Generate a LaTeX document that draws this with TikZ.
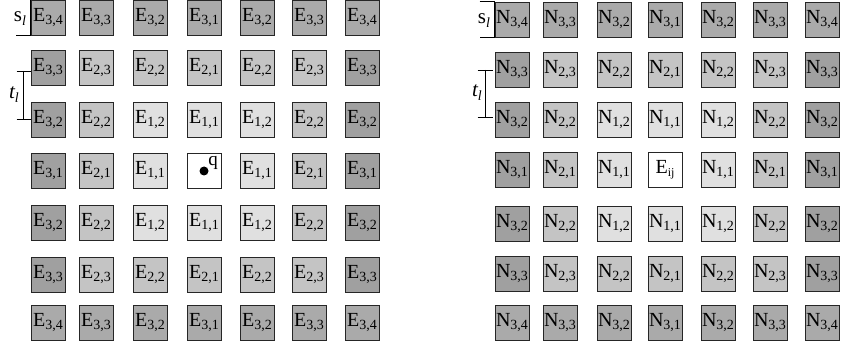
\documentclass[tikz,border=0pt]{standalone}
\usepackage{fontspec}
\setmainfont{Liberation Serif}
\newfontfamily\tnr{Liberation Serif}
\usetikzlibrary{calc}
\definecolor{shade0}{HTML}{FFFFFF}
\definecolor{shade1}{HTML}{E0E0E0}
\definecolor{shade2}{HTML}{C4C4C4}
\definecolor{shade3}{HTML}{A0A0A0}
\definecolor{shade4}{HTML}{AAAAAA}
\newcommand\subx[1]{\raisebox{-3pt}{\fontsize{14}{14}\selectfont #1}}
\begin{document}
\begin{tikzpicture}[x=1pt,y=-1pt,
  cell/.style={draw=black!85, line width=0.7pt, minimum width=34pt, minimum height=35pt,
    inner sep=0pt, font=\tnr\fontsize{20}{21}\selectfont},
  brk/.style={draw=black, line width=0.7pt},
  lbl/.style={inner sep=0pt, font=\tnr\fontsize{21}{22}\selectfont}]
\useasboundingbox (0,0) rectangle (842,347);
% left grid
\foreach \r/\y in {1/17.5,2/68,3/120,4/171,5/223,6/275,7/323} {
  \foreach \c/\x in {1/48,2/96,3/150,4/204,5/257,6/309,7/362} {
    \pgfmathtruncatemacro\dr{abs(\r-4)}
    \pgfmathtruncatemacro\dc{abs(\c-4)}
    \pgfmathtruncatemacro\a{max(\dr,\dc)}
    \pgfmathtruncatemacro\b{min(\dr,\dc)+1}
    \pgfmathtruncatemacro\k{\dr==3 ? 4 : \a}
    \node[cell, fill=shade\k] (L-\r-\c) at (\x,\y) {\ifnum\a=0 \else E\subx{\a,\b}\fi};
  }
}
% right grid
\foreach \r/\y in {1/19.5,2/69.5,3/120,4/170,5/223.5,6/273.5,7/323} {
  \foreach \c/\x in {1/512,2/560,3/614,4/665,5/718,6/770,7/822} {
    \pgfmathtruncatemacro\dr{abs(\r-4)}
    \pgfmathtruncatemacro\dc{abs(\c-4)}
    \pgfmathtruncatemacro\a{max(\dr,\dc)}
    \pgfmathtruncatemacro\b{min(\dr,\dc)+1}
    \pgfmathtruncatemacro\k{\dr==3 ? 4 : \a}
    \node[cell, fill=shade\k] (R-\r-\c) at (\x,\y) {\ifnum\a=0 E\subx{\fontsize{12}{12}\selectfont ij}\else N\subx{\a,\b}\fi};
  }
}
% query point
\fill (L-4-4.center) circle (4.5pt);
\node[lbl, font=\tnr\fontsize{19}{20}\selectfont] (q) at ($(L-4-4.center)+(9,-8)$) {q};
% left brackets
\draw[brk] ($(L-1-1.north west)+(-15,0)$) -- (L-1-1.north west) -- (L-1-1.south west) -- +(-15,0);
\node[lbl] (sl) at (20,19) {s\raisebox{-4pt}{\fontsize{14}{14}\selectfont\itshape l}};
\coordinate (lt1) at ($(L-2-1.west)+(0,3)$);
\coordinate (lt2) at ($(L-3-1.west)+(0,-1)$);
\draw[brk] ($(lt1)+(-14,0)$) -- (lt1);
\draw[brk] ($(lt2)+(-14,0)$) -- (lt2);
\draw[brk] ($(lt1)+(-7,0)$) -- ($(lt2)+(-7,0)$);
\node[lbl] (tl) at (14,95) {\itshape t\raisebox{-4pt}{\fontsize{14}{14}\selectfont l}};
% right brackets
\draw[brk] ($(R-1-1.north west)+(-15,0)$) -- (R-1-1.north west) -- (R-1-1.south west) -- +(-15,0);
\node[lbl] (sr) at (484,21) {s\raisebox{-4pt}{\fontsize{14}{14}\selectfont\itshape l}};
\coordinate (rt1) at ($(R-2-1.west)+(-2,0.5)$);
\coordinate (rt2) at ($(R-3-1.west)+(-2,-3)$);
\draw[brk] ($(rt1)+(-15,0)$) -- (rt1);
\draw[brk] ($(rt2)+(-15,0)$) -- (rt2);
\draw[brk] ($(rt1)+(-7,0)$) -- ($(rt2)+(-7,0)$);
\node[lbl] (tr) at (477,93) {\itshape t\raisebox{-4pt}{\fontsize{14}{14}\selectfont l}};
\end{tikzpicture}
\end{document}
